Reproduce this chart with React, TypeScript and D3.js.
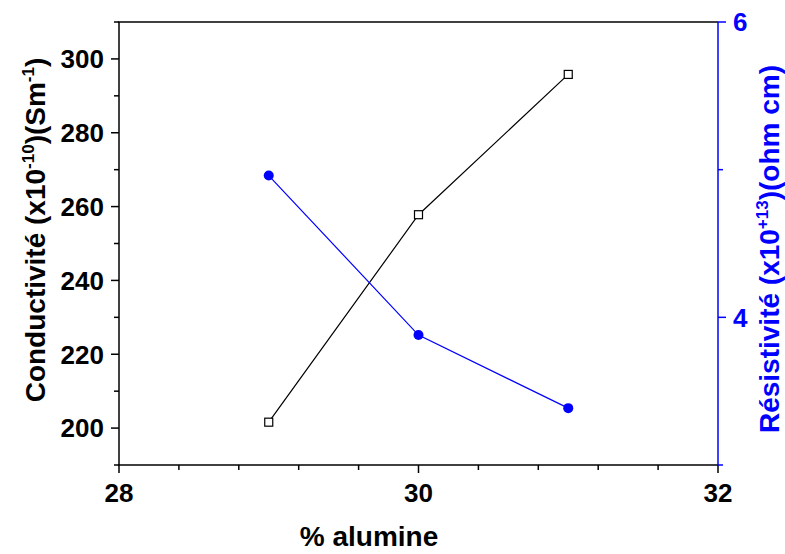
import React, { useEffect, useRef } from "react";
import * as d3 from "d3";

const aluminePct = [29, 30, 31];
const conductivite = [201.6, 257.8, 295.8];
const resistivite = [4.96, 3.88, 3.385];
const xTicksMajor = [28, 30, 32];
const leftTicksMajor = [200, 220, 240, 260, 280, 300];
const rightTicksMajor = [4, 6];

const W = 785, H = 554;
const M = { left: 119, right: 718, top: 22, bottom: 465 };
const FONT = "'Liberation Sans', Arial, sans-serif";

export default function App() {
  const ref = useRef<SVGSVGElement>(null);
  useEffect(() => {
    const svg = d3.select(ref.current);
    svg.selectAll("*").remove();
    const x = d3.scaleLinear().domain([28, 32]).range([M.left, M.right]);
    const yL = d3.scaleLinear().domain([190, 310]).range([M.bottom, M.top]);
    const yR = d3.scaleLinear().domain([3, 6]).range([M.bottom, M.top]);

    svg.append("line").attr("x1", M.left - 1).attr("x2", M.right).attr("y1", M.top).attr("y2", M.top).attr("stroke", "#000").attr("stroke-width", 1.5);

    // bottom axis
    const gx = svg.append("g").attr("transform", `translate(0,${M.bottom})`);
    gx.append("line").attr("x1", M.left - 1).attr("x2", M.right).attr("stroke", "#000").attr("stroke-width", 1.5);
    d3.range(28, 32.001, 0.4).forEach((v) => {
      const major = xTicksMajor.some((t) => Math.abs(t - v) < 1e-6);
      gx.append("line").attr("x1", x(v)).attr("x2", x(v)).attr("y1", 0).attr("y2", major ? 8 : 5).attr("stroke", "#000").attr("stroke-width", 1.5);
    });
    xTicksMajor.forEach((v) => {
      gx.append("text").attr("x", x(v)).attr("y", 37).attr("text-anchor", "middle")
        .attr("font-family", FONT).attr("font-weight", "bold").attr("font-size", 26).text(String(v));
    });

    // left axis
    const gl = svg.append("g").attr("transform", `translate(${M.left},0)`);
    gl.append("line").attr("y1", M.top).attr("y2", M.bottom).attr("stroke", "#000").attr("stroke-width", 1.5);
    d3.range(190, 310.001, 10).forEach((v) => {
      const major = leftTicksMajor.includes(v);
      gl.append("line").attr("x1", 0).attr("x2", major ? -8 : -5).attr("y1", yL(v)).attr("y2", yL(v)).attr("stroke", "#000").attr("stroke-width", 1.5);
    });
    leftTicksMajor.forEach((v) => {
      gl.append("text").attr("x", -15).attr("y", yL(v)).attr("dy", "0.36em").attr("text-anchor", "end")
        .attr("font-family", FONT).attr("font-weight", "bold").attr("font-size", 26).text(String(v));
    });

    // right axis
    const gr = svg.append("g").attr("transform", `translate(${M.right},0)`);
    gr.append("line").attr("y1", M.top).attr("y2", M.bottom).attr("stroke", "#0000ff").attr("stroke-width", 1.5);
    [3, 4, 5, 6].forEach((v) => {
      const major = rightTicksMajor.includes(v);
      gr.append("line").attr("x1", 0).attr("x2", major ? 8 : 5).attr("y1", yR(v)).attr("y2", yR(v)).attr("stroke", "#0000ff").attr("stroke-width", 1.5);
    });
    rightTicksMajor.forEach((v) => {
      gr.append("text").attr("x", 15).attr("y", yR(v)).attr("dy", "0.36em").attr("text-anchor", "start")
        .attr("fill", "#0000ff").attr("font-family", FONT).attr("font-weight", "bold").attr("font-size", 26).text(String(v));
    });

    // titles
    svg.append("text").attr("x", 369).attr("y", 546).attr("text-anchor", "middle")
      .attr("font-family", FONT).attr("font-weight", "bold").attr("font-size", 28).text("% alumine");

    const lt = svg.append("text").attr("transform", "translate(45,230) rotate(-90)").attr("text-anchor", "middle")
      .attr("font-family", FONT).attr("font-weight", "bold").attr("font-size", 28);
    lt.append("tspan").text("Conductivité (x10");
    lt.append("tspan").attr("font-size", 17).attr("dy", -11).text("-10");
    lt.append("tspan").attr("dy", 11).text(")(Sm");
    lt.append("tspan").attr("font-size", 17).attr("dy", -11).text("-1");
    lt.append("tspan").attr("dy", 11).text(")");

    const rt = svg.append("text").attr("transform", "translate(779,249) rotate(-90)").attr("text-anchor", "middle")
      .attr("fill", "#0000ff").attr("font-family", FONT).attr("font-weight", "bold").attr("font-size", 28);
    rt.append("tspan").text("Résistivité (x10");
    rt.append("tspan").attr("font-size", 17).attr("dy", -11).text("+13");
    rt.append("tspan").attr("dy", 11).text(")(ohm cm)");

    // series: conductivite
    const lineL = d3.line<number>().x((_, i) => x(aluminePct[i])).y((d) => yL(d));
    svg.append("path").attr("d", lineL(conductivite)).attr("fill", "none").attr("stroke", "#000").attr("stroke-width", 1.2);
    conductivite.forEach((d, i) => {
      svg.append("rect").attr("x", x(aluminePct[i]) - 4).attr("y", yL(d) - 4).attr("width", 8).attr("height", 8)
        .attr("fill", "#fff").attr("stroke", "#000").attr("stroke-width", 1.2);
    });

    // series: resistivite
    const lineR = d3.line<number>().x((_, i) => x(aluminePct[i])).y((d) => yR(d));
    svg.append("path").attr("d", lineR(resistivite)).attr("fill", "none").attr("stroke", "#0000ff").attr("stroke-width", 1.2);
    resistivite.forEach((d, i) => {
      svg.append("circle").attr("cx", x(aluminePct[i])).attr("cy", yR(d)).attr("r", 5).attr("fill", "#0000ff");
    });
  }, []);
  return (
    <svg ref={ref} width={W} height={H} style={{ position: "absolute", left: 0, top: 0, background: "#fff" }} />
  );
}
